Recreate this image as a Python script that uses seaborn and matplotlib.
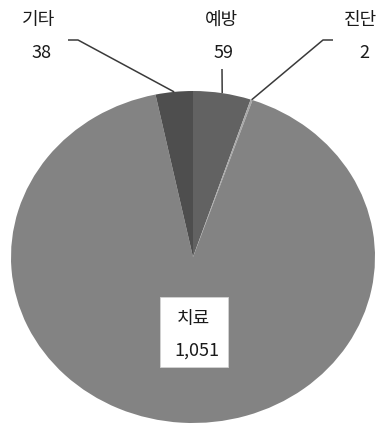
import matplotlib
matplotlib.use("Agg")
import matplotlib.pyplot as plt
import seaborn as sns
import numpy as np

# Data
categories = ["예방", "진단", "치료", "기타"]
values = [59, 2, 1051, 38]
value_labels = ["59", "2", "1,051", "38"]
colors = ["#626262", "#a8a8a8", "#838383", "#4e4e4e"]

sns.set_theme(style="white")
plt.rcParams["font.family"] = ["Noto Sans CJK KR", "DejaVu Sans"]

W, H = 380, 427
fig = plt.figure(figsize=(W / 100, H / 100), dpi=100)
ax = fig.add_axes([0, 0, 1, 1])

# Pie geometry in pixels (centre and radii; slightly elliptical)
cx, cy, rx, ry = 193, 258, 182, 166

wedges, _ = ax.pie(values, colors=colors, startangle=90, counterclock=False,
                   wedgeprops=dict(linewidth=0), radius=1.0, center=(0, 0))
ax.set_aspect("auto")
ax.set_xlim(-cx / rx, (W - cx) / rx)
ax.set_ylim(-(H - cy) / ry, cy / ry)
ax.axis("off")


def px(x, y):
    """Convert pixel position (from top-left) to data coordinates."""
    return (x - cx) / rx, (cy - y) / ry


def edge_point(w):
    mid = np.deg2rad((w.theta1 + w.theta2) / 2)
    return np.cos(mid), np.sin(mid)


fs = 13
txt_color = "#1a1a1a"
line_kw = dict(color="#3a3a3a", lw=1.1, solid_capstyle="butt")

# Outside labels: name/value positions and leader-line elbows (pixels)
outside = {
    "기타": dict(name=(39, 20), val=(42, 53), elbow=[(68, 41), (78, 41)]),
    "예방": dict(name=(222, 20), val=(224, 53), elbow=[(222, 70)]),
    "진단": dict(name=(361, 20), val=(364, 53), elbow=[(333, 41), (323, 41)]),
}

for cat, w, vl in zip(categories, wedges, value_labels):
    if cat in outside:
        o = outside[cat]
        ax.text(*px(*o["name"]), cat, ha="center", va="center", fontsize=fs, color=txt_color)
        ax.text(*px(*o["val"]), vl, ha="center", va="center", fontsize=fs, color=txt_color)
        pts = [px(*p) for p in o["elbow"]] + [edge_point(w)]
        xs, ys = zip(*pts)
        ax.plot(xs, ys, **line_kw)
    else:
        # White label box inside the large slice
        x0, y0 = px(160, 368)
        x1, y1 = px(228, 298)
        ax.add_patch(plt.Rectangle((x0, y0), x1 - x0, y1 - y0, facecolor="white",
                                   edgecolor="#d4d4d4", linewidth=0.6, zorder=2))
        ax.text(*px(193, 319), cat, ha="center", va="center", fontsize=fs,
                color=txt_color, zorder=3)
        ax.text(*px(197, 351), vl, ha="center", va="center", fontsize=fs,
                color=txt_color, zorder=3)

fig.savefig("out.png", dpi=100)
